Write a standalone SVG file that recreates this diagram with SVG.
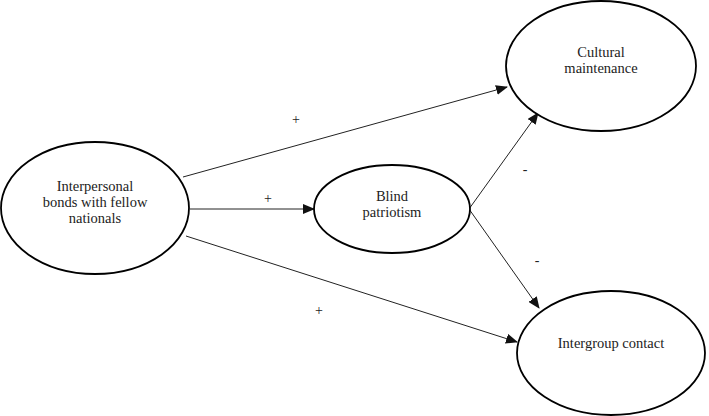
<svg xmlns="http://www.w3.org/2000/svg" width="709" height="416" viewBox="0 0 709 416">
<style>
.node{fill:#fff;stroke:#000;stroke-width:1.8}
.t{font-family:"Liberation Serif",serif;font-size:14.5px;fill:#222;text-anchor:middle}
.c{stroke:#222;stroke-width:1;fill:none;marker-end:url(#ah)}
.s{font-family:"Liberation Serif",serif;font-size:14px;fill:#222;text-anchor:middle}
</style>
<defs>
<marker id="ah" markerWidth="12" markerHeight="10" refX="11" refY="5" orient="auto" markerUnits="userSpaceOnUse">
<path d="M0,0 L12,5 L0,10 Z" fill="#111"/>
</marker>
</defs>
<rect width="709" height="416" fill="#fff"/>
<g id="connectors">
<line class="c" x1="183" y1="177" x2="507" y2="87"/>
<line class="c" x1="190" y1="209" x2="314" y2="209"/>
<line class="c" x1="186" y1="236" x2="517" y2="342"/>
<line class="c" x1="469" y1="209" x2="538" y2="113"/>
<line class="c" x1="469" y1="209" x2="539" y2="308"/>
<text class="s" x="296" y="124">+</text>
<text class="s" x="268" y="203">+</text>
<text class="s" x="319" y="315">+</text>
<text class="s" x="525" y="174">-</text>
<text class="s" x="537" y="265">-</text>
</g>
<g id="interpersonal">
<ellipse class="node" cx="95" cy="208" rx="94" ry="66"/>
<text class="t" x="95" y="191">Interpersonal</text>
<text class="t" x="95" y="207">bonds with fellow</text>
<text class="t" x="95" y="223">nationals</text>
</g>
<g id="blind">
<ellipse class="node" cx="392" cy="209" rx="78" ry="44"/>
<text class="t" x="392" y="201">Blind</text>
<text class="t" x="392" y="217">patriotism</text>
</g>
<g id="cultural">
<ellipse class="node" cx="601" cy="66" rx="95" ry="65"/>
<text class="t" x="601" y="57">Cultural</text>
<text class="t" x="601" y="73">maintenance</text>
</g>
<g id="intergroup">
<ellipse class="node" cx="611" cy="353" rx="94" ry="62"/>
<text class="t" x="611" y="348">Intergroup contact</text>
</g>
</svg>
